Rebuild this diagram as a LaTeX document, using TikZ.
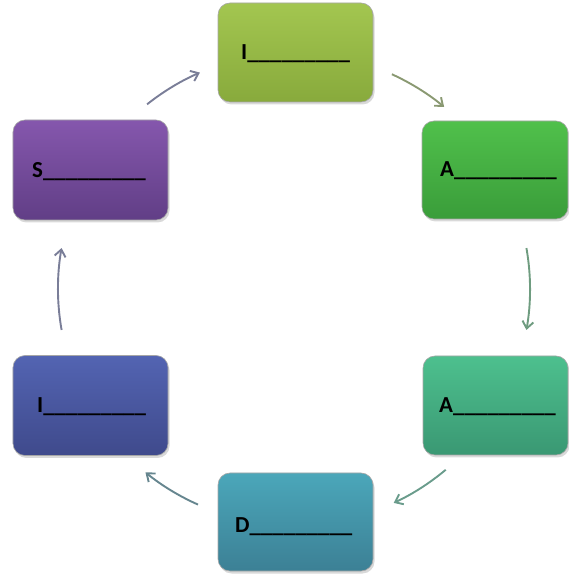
\documentclass[tikz,border=0pt]{standalone}
\usepackage{fontspec}
\setmainfont{Carlito}
\usetikzlibrary{arrows.meta,shadows}
\definecolor{tTop}{HTML}{A3C650}\definecolor{tBot}{HTML}{88AA3C}
\definecolor{ruTop}{HTML}{50C04B}\definecolor{ruBot}{HTML}{3A9D3A}
\definecolor{rlTop}{HTML}{4DC08E}\definecolor{rlBot}{HTML}{3A9873}
\definecolor{bTop}{HTML}{4BA7BA}\definecolor{bBot}{HTML}{3C8095}
\definecolor{llTop}{HTML}{5364B2}\definecolor{llBot}{HTML}{3F4A8C}
\definecolor{luTop}{HTML}{8557AD}\definecolor{luBot}{HTML}{613E86}
\definecolor{aSlate}{HTML}{7A7E98}
\definecolor{aOlive}{HTML}{8A9972}
\definecolor{aGreen}{HTML}{6F9C80}
\definecolor{aTeal}{HTML}{6A9C8C}
\definecolor{aBlue}{HTML}{66868F}
\tikzset{
  box/.style={rounded corners=12bp, draw=black!35, line width=0.6bp,
    drop shadow={opacity=0.3, shadow xshift=1.5bp, shadow yshift=-2.5bp},
    inner sep=0pt},
  lab/.style={anchor=base west, inner sep=0pt, text=black,
    font=\bfseries\fontsize{23}{23}\selectfont},
  conn/.style={line width=1.9bp, -{Straight Barb[length=7bp,width=11bp,line width=1.9bp]}}
}
\begin{document}
\begin{tikzpicture}[x=1bp,y=1bp]
\useasboundingbox (0,0) rectangle (569,577);
% boxes
\node[box, minimum width=155bp, minimum height=99bp, top color=tTop, bottom color=tBot] (t) at (295.5,524.5) {};
\node[box, minimum width=146bp, minimum height=98bp, top color=ruTop, bottom color=ruBot] (ru) at (495,407) {};
\node[box, minimum width=145bp, minimum height=99bp, top color=rlTop, bottom color=rlBot] (rl) at (495.5,171.5) {};
\node[box, minimum width=155bp, minimum height=98bp, top color=bTop, bottom color=bBot] (b) at (295.5,55) {};
\node[box, minimum width=155bp, minimum height=100bp, top color=llTop, bottom color=llBot] (ll) at (90.5,171.5) {};
\node[box, minimum width=155bp, minimum height=100bp, top color=luTop, bottom color=luBot] (lu) at (90.5,407) {};
% labels
\node[lab] (tl) at (241,517) {I\_\_\_\_\_\_\_\_\_};
\node[lab] (rul) at (440,400) {A\_\_\_\_\_\_\_\_\_};
\node[lab] (rll) at (439,164) {A\_\_\_\_\_\_\_\_\_};
\node[lab] (bl) at (235,44) {D\_\_\_\_\_\_\_\_\_};
\node[lab] (lll) at (37,164) {I\_\_\_\_\_\_\_\_\_};
\node[lab] (lul) at (32,399) {S\_\_\_\_\_\_\_\_\_};
% connectors on a circle
\coordinate (c) at (294,288);
\path (c) ++(128.5:236) coordinate (a1);
\path (c) ++(65.5:236) coordinate (a2);
\path (c) ++(10:236) coordinate (a3);
\path (c) ++(-50:236) coordinate (a4);
\path (c) ++(-114:236) coordinate (a5);
\path (c) ++(190:236) coordinate (a6);
\draw[conn, aSlate] (a1) arc[start angle=128.5, end angle=113.5, radius=236];
\draw[conn, aOlive] (a2) arc[start angle=65.5, end angle=50.5, radius=236];
\draw[conn, aGreen] (a3) arc[start angle=10, end angle=-10, radius=236];
\draw[conn, aTeal] (a4) arc[start angle=-50, end angle=-65, radius=236];
\draw[conn, aBlue] (a5) arc[start angle=-114, end angle=-129, radius=236];
\draw[conn, aSlate] (a6) arc[start angle=190, end angle=170, radius=236];
\end{tikzpicture}
\end{document}
